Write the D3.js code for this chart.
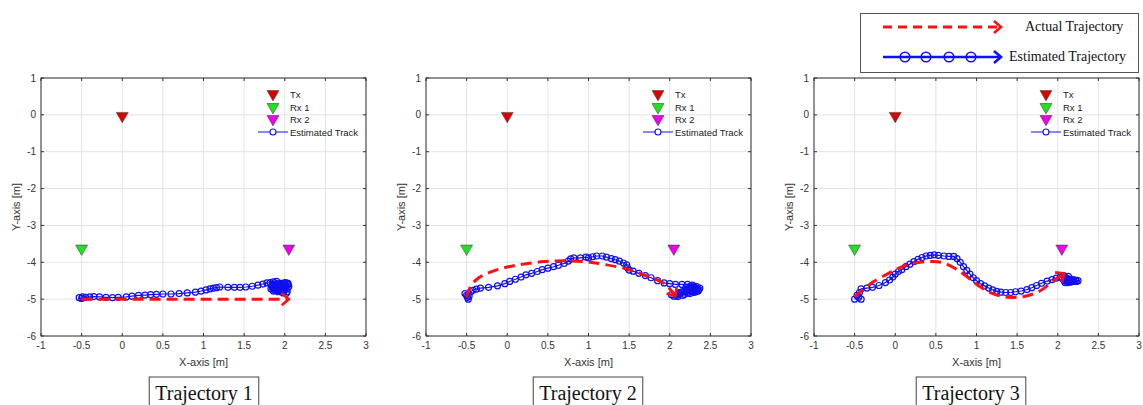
<!DOCTYPE html>
<html>
<head>
<meta charset="utf-8">
<script src="https://cdn.jsdelivr.net/npm/d3@7"></script>
<style>
body { margin: 0; background: #fff; }
</style>
</head>
<body>
<svg id="chart" width="1143" height="405"></svg>
<script>
//tick values for every panel
var xTicks = [-1, -0.5, 0, 0.5, 1, 1.5, 2, 2.5, 3];
var yTicks = [1, 0, -1, -2, -3, -4, -5, -6];

//antenna positions
var stationNames = ["Tx", "Rx 1", "Rx 2"];
var stationX = [0, -0.5, 2.05];
var stationY = [0, -3.6, -3.6];

var captions = ["Trajectory 1", "Trajectory 2", "Trajectory 3"];

//actual (red dashed) trajectories
var actual1 = [[-0.5, -5], [2.05, -5]];
var actual2 = [[-0.5, -4.95], [-0.45, -4.65], [-0.35, -4.42], [-0.2, -4.26], [0, -4.13], [0.2, -4.05],
  [0.45, -3.98], [0.7, -3.96], [0.95, -3.98], [1.2, -4.06], [1.5, -4.2], [1.75, -4.4], [1.95, -4.6], [2.07, -4.92]];
var actual3 = [[-0.5, -4.93], [-0.38, -4.72], [-0.27, -4.53], [-0.1, -4.32], [0.05, -4.15], [0.25, -4.02],
  [0.45, -3.98], [0.6, -4.02], [0.75, -4.18], [0.9, -4.42], [1.05, -4.67], [1.2, -4.85], [1.4, -4.95],
  [1.6, -4.92], [1.78, -4.78], [1.95, -4.5], [2.08, -4.3]];

//estimated (blue circles) tracks
var estimated1 = [[-0.53, -4.96], [-0.5, -4.98], [-0.49, -4.94], [-0.45, -4.95], [-0.4, -4.94], [-0.35, -4.93],
  [-0.28, -4.94], [-0.2, -4.95], [-0.12, -4.96], [-0.05, -4.95], [0.05, -4.94], [0.12, -4.92], [0.2, -4.9],
  [0.28, -4.89], [0.35, -4.88], [0.42, -4.87], [0.5, -4.86], [0.6, -4.86], [0.7, -4.85], [0.8, -4.83],
  [0.9, -4.81], [0.97, -4.78], [1.03, -4.75], [1.08, -4.72], [1.12, -4.7], [1.16, -4.69], [1.2, -4.67],
  [1.3, -4.68], [1.38, -4.68], [1.45, -4.68], [1.52, -4.67], [1.6, -4.65], [1.67, -4.62], [1.73, -4.59],
  [1.78, -4.56], [1.82, -4.55], [1.86, -4.53], [1.9, -4.52], [1.85, -4.6], [1.88, -4.66], [1.83, -4.72],
  [1.86, -4.78], [1.9, -4.72], [1.95, -4.65], [1.98, -4.58], [2.02, -4.56], [2.04, -4.6], [1.96, -4.7],
  [1.92, -4.8], [1.98, -4.83], [2.03, -4.8], [2.0, -4.7], [1.94, -4.6], [1.9, -4.68], [1.85, -4.7],
  [1.88, -4.76], [1.95, -4.78], [2.02, -4.84], [1.97, -4.62], [1.92, -4.64], [1.87, -4.62], [1.84, -4.66],
  [1.89, -4.72], [1.93, -4.74], [1.98, -4.76], [2.03, -4.72], [2.05, -4.66], [2.0, -4.62], [1.95, -4.57],
  [1.9, -4.58], [1.86, -4.66], [1.9, -4.77], [1.96, -4.74], [2.01, -4.68], [2.04, -4.57], [2.0, -4.55]];
var estimated2 = [[-0.48, -5.0], [-0.5, -4.9], [-0.52, -4.85], [-0.47, -4.92], [-0.49, -4.95], [-0.45, -4.8],
  [-0.42, -4.76], [-0.38, -4.73], [-0.33, -4.7], [-0.23, -4.68], [-0.12, -4.64], [-0.03, -4.58], [0.03, -4.52],
  [0.1, -4.46], [0.17, -4.4], [0.23, -4.34], [0.3, -4.3], [0.37, -4.25], [0.43, -4.2], [0.5, -4.16], [0.57, -4.12],
  [0.63, -4.08], [0.7, -4.03], [0.75, -3.97], [0.78, -3.91], [0.82, -3.88], [0.9, -3.88], [0.97, -3.86],
  [1.0, -3.88], [1.05, -3.85], [1.1, -3.83], [1.17, -3.83], [1.22, -3.86], [1.28, -3.9], [1.33, -3.93],
  [1.38, -3.97], [1.43, -4.02], [1.47, -4.07], [1.48, -4.15], [1.5, -4.21], [1.55, -4.24], [1.62, -4.3],
  [1.7, -4.36], [1.77, -4.42], [1.85, -4.5], [1.93, -4.56], [2.0, -4.58], [2.07, -4.6], [2.15, -4.6],
  [2.22, -4.6], [2.28, -4.62], [2.33, -4.66], [2.37, -4.7], [2.35, -4.78], [2.3, -4.82], [2.25, -4.85],
  [2.18, -4.87], [2.1, -4.88], [2.05, -4.92], [2.12, -4.85], [2.2, -4.8], [2.28, -4.76], [2.32, -4.72],
  [2.25, -4.7], [2.2, -4.75], [2.15, -4.8], [2.08, -4.9], [2.02, -4.88], [2.1, -4.93], [2.16, -4.9],
  [2.22, -4.84], [2.27, -4.8], [2.31, -4.77], [2.34, -4.72], [2.3, -4.66], [2.25, -4.65], [2.2, -4.68],
  [2.26, -4.74], [2.32, -4.8], [2.36, -4.74], [2.28, -4.68], [2.22, -4.72], [2.18, -4.78], [2.12, -4.82]];
var estimated3 = [[-0.5, -5.0], [-0.45, -4.95], [-0.42, -5.0], [-0.47, -4.9], [-0.44, -4.82], [-0.42, -4.72],
  [-0.35, -4.7], [-0.28, -4.68], [-0.2, -4.63], [-0.12, -4.55], [-0.07, -4.48], [-0.03, -4.4], [0.0, -4.32],
  [0.04, -4.25], [0.08, -4.2], [0.13, -4.12], [0.18, -4.05], [0.23, -3.98], [0.28, -3.92], [0.33, -3.87],
  [0.38, -3.83], [0.43, -3.81], [0.48, -3.8], [0.53, -3.81], [0.6, -3.83], [0.66, -3.84], [0.72, -3.84],
  [0.76, -3.9], [0.8, -4.0], [0.84, -4.12], [0.88, -4.22], [0.92, -4.32], [0.96, -4.42], [1.0, -4.5],
  [1.05, -4.58], [1.1, -4.64], [1.15, -4.7], [1.2, -4.75], [1.25, -4.79], [1.3, -4.81], [1.36, -4.82],
  [1.42, -4.82], [1.48, -4.8], [1.55, -4.78], [1.62, -4.74], [1.68, -4.69], [1.74, -4.63], [1.8, -4.57],
  [1.87, -4.51], [1.93, -4.47], [1.98, -4.43], [2.03, -4.4], [2.08, -4.37], [2.1, -4.45], [2.12, -4.55],
  [2.15, -4.5], [2.18, -4.46], [2.22, -4.48], [2.25, -4.5], [2.2, -4.52], [2.14, -4.53], [2.08, -4.5],
  [2.1, -4.42], [2.13, -4.38], [2.11, -4.5], [2.16, -4.54], [2.19, -4.5], [2.23, -4.52], [2.17, -4.48],
  [2.12, -4.44], [2.09, -4.55], [2.06, -4.45], [2.14, -4.47]];

var actuals = [actual1, actual2, actual3];
var estimates = [estimated1, estimated2, estimated3];

//layout
var panelLeft = [41, 426, 814];
var panelWidth = 325;
var panelTop = 78;
var panelHeight = 258;
var captionCenter = [204, 588, 971];
var stationColors = ["#dd0000", "#22e022", "#ee00ee"];
var blue = "#1010f0";
var red = "#ff1010";

var svg = d3.select("#chart");
var defs = svg.append("defs");

//open chevron arrow head for the dashed line
defs.append("marker")
  .attr("id", "redArrow")
  .attr("markerUnits", "userSpaceOnUse")
  .attr("viewBox", "-10 -8 12 16")
  .attr("markerWidth", 12).attr("markerHeight", 16)
  .attr("refX", 0).attr("refY", 0)
  .attr("orient", "auto")
  .append("path")
  .attr("d", "M-7,-6 L0,0 L-7,6")
  .attr("fill", "none").attr("stroke", red).attr("stroke-width", 2.6);

var triangle = d3.symbol().type(d3.symbolTriangle).size(62);

function drawPanel(i) {
  var x = d3.scaleLinear().domain([-1, 3]).range([panelLeft[i], panelLeft[i] + panelWidth]);
  var y = d3.scaleLinear().domain([-6, 1]).range([panelTop + panelHeight, panelTop]);
  var g = svg.append("g");

  //white plot background
  g.append("rect")
    .attr("x", x(-1)).attr("y", y(1))
    .attr("width", panelWidth).attr("height", panelHeight)
    .attr("fill", "#fff");

  //grid
  g.selectAll(".gx").data(xTicks).enter().append("line")
    .attr("x1", d => x(d)).attr("x2", d => x(d))
    .attr("y1", y(-6)).attr("y2", y(1))
    .attr("stroke", "#e3e3e3").attr("stroke-width", 1);
  g.selectAll(".gy").data(yTicks).enter().append("line")
    .attr("x1", x(-1)).attr("x2", x(3))
    .attr("y1", d => y(d)).attr("y2", d => y(d))
    .attr("stroke", "#e3e3e3").attr("stroke-width", 1);

  //inward ticks, all four sides
  var tl = 3;
  xTicks.forEach(function (d) {
    g.append("line").attr("x1", x(d)).attr("x2", x(d)).attr("y1", y(-6)).attr("y2", y(-6) - tl)
      .attr("stroke", "#333");
    g.append("line").attr("x1", x(d)).attr("x2", x(d)).attr("y1", y(1)).attr("y2", y(1) + tl)
      .attr("stroke", "#333");
  });
  yTicks.forEach(function (d) {
    g.append("line").attr("x1", x(-1)).attr("x2", x(-1) + tl).attr("y1", y(d)).attr("y2", y(d))
      .attr("stroke", "#333");
    g.append("line").attr("x1", x(3)).attr("x2", x(3) - tl).attr("y1", y(d)).attr("y2", y(d))
      .attr("stroke", "#333");
  });

  //box
  g.append("rect")
    .attr("x", x(-1)).attr("y", y(1))
    .attr("width", panelWidth).attr("height", panelHeight)
    .attr("fill", "none").attr("stroke", "#333").attr("stroke-width", 1);

  //tick labels
  g.selectAll(".xl").data(xTicks).enter().append("text")
    .attr("x", d => x(d)).attr("y", y(-6) + 13)
    .attr("text-anchor", "middle")
    .attr("font-family", "Liberation Sans, Arial, sans-serif").attr("font-size", 10)
    .attr("fill", "#333")
    .text(d => String(d));
  g.selectAll(".yl").data(yTicks).enter().append("text")
    .attr("x", x(-1) - 5).attr("y", d => y(d) + 3.5)
    .attr("text-anchor", "end")
    .attr("font-family", "Liberation Sans, Arial, sans-serif").attr("font-size", 10)
    .attr("fill", "#333")
    .text(d => String(d));

  //axis titles
  g.append("text")
    .attr("x", x(1)).attr("y", y(-6) + 30)
    .attr("text-anchor", "middle")
    .attr("font-family", "Liberation Sans, Arial, sans-serif").attr("font-size", 11)
    .attr("fill", "#333")
    .text("X-axis [m]");
  g.append("text")
    .attr("transform", "translate(" + (x(-1) - 21) + "," + y(-2.5) + ") rotate(-90)")
    .attr("text-anchor", "middle")
    .attr("font-family", "Liberation Sans, Arial, sans-serif").attr("font-size", 11)
    .attr("fill", "#333")
    .text("Y-axis [m]");

  //estimated track
  var est = estimates[i];
  g.append("path").datum(est)
    .attr("d", d3.line().x(d => x(d[0])).y(d => y(d[1])))
    .attr("fill", "none").attr("stroke", blue).attr("stroke-width", 1.2);
  g.selectAll(".pt").data(est).enter().append("circle")
    .attr("cx", d => x(d[0])).attr("cy", d => y(d[1]))
    .attr("r", 3)
    .attr("fill", "none").attr("stroke", blue).attr("stroke-width", 1.2);

  //actual trajectory
  var curve = actuals[i].length > 2 ? d3.curveCatmullRom : d3.curveLinear;
  g.append("path").datum(actuals[i])
    .attr("d", d3.line().curve(curve).x(d => x(d[0])).y(d => y(d[1])))
    .attr("fill", "none").attr("stroke", red).attr("stroke-width", 3)
    .attr("stroke-dasharray", "11,6")
    .attr("marker-end", "url(#redArrow)");

  //stations
  stationNames.forEach(function (name, k) {
    g.append("path")
      .attr("d", triangle)
      .attr("transform", "translate(" + x(stationX[k]) + "," + (y(stationY[k]) + 1) + ") rotate(180)")
      .attr("fill", stationColors[k]).attr("stroke", "#444").attr("stroke-width", 0.6);
  });

  //legend
  var lx = x(-1) + 232;
  var rows = [16, 29, 41, 54];
  stationNames.forEach(function (name, k) {
    g.append("path")
      .attr("d", triangle)
      .attr("transform", "translate(" + lx + "," + (panelTop + rows[k]) + ") rotate(180)")
      .attr("fill", stationColors[k]).attr("stroke", "#444").attr("stroke-width", 0.6);
    g.append("text")
      .attr("x", lx + 17).attr("y", panelTop + rows[k] + 3.5)
      .attr("font-family", "Liberation Sans, Arial, sans-serif").attr("font-size", 9.5)
      .attr("fill", "#222")
      .text(name);
  });
  g.append("line")
    .attr("x1", lx - 15).attr("x2", lx + 15)
    .attr("y1", panelTop + rows[3]).attr("y2", panelTop + rows[3])
    .attr("stroke", blue).attr("stroke-width", 1);
  g.append("circle")
    .attr("cx", lx).attr("cy", panelTop + rows[3]).attr("r", 3)
    .attr("fill", "#fff").attr("stroke", blue).attr("stroke-width", 1.1);
  g.append("text")
    .attr("x", lx + 17).attr("y", panelTop + rows[3] + 3.5)
    .attr("font-family", "Liberation Sans, Arial, sans-serif").attr("font-size", 9.5)
    .attr("fill", "#222")
    .text("Estimated Track");

  //caption box
  var cg = svg.append("g");
  var ct = cg.append("text")
    .attr("x", captionCenter[i]).attr("y", 400)
    .attr("text-anchor", "middle")
    .attr("font-family", "Liberation Serif, Times New Roman, serif").attr("font-size", 20)
    .attr("fill", "#111")
    .text(captions[i]);
  var bb = ct.node().getBBox();
  cg.insert("rect", "text")
    .attr("x", bb.x - 6).attr("y", 377)
    .attr("width", bb.width + 12).attr("height", 40)
    .attr("fill", "#fff").attr("stroke", "#444").attr("stroke-width", 1);
}

[0, 1, 2].forEach(drawPanel);

//top legend
var lg = svg.append("g");
lg.append("rect")
  .attr("x", 860.5).attr("y", 13.5).attr("width", 278).attr("height", 59)
  .attr("fill", "#fff").attr("stroke", "#555").attr("stroke-width", 1);
lg.append("line")
  .attr("x1", 883).attr("x2", 1001).attr("y1", 27).attr("y2", 27)
  .attr("stroke", red).attr("stroke-width", 3).attr("stroke-dasharray", "9,6")
  .attr("marker-end", "url(#redArrow)");
lg.append("text")
  .attr("x", 1025).attr("y", 31)
  .attr("font-family", "Liberation Serif, Times New Roman, serif").attr("font-size", 14)
  .attr("fill", "#111")
  .text("Actual Trajectory");

defs.append("marker")
  .attr("id", "blueArrow")
  .attr("markerUnits", "userSpaceOnUse")
  .attr("viewBox", "-10 -8 12 16")
  .attr("markerWidth", 12).attr("markerHeight", 16)
  .attr("refX", 0).attr("refY", 0)
  .attr("orient", "auto")
  .append("path")
  .attr("d", "M-7,-6 L0,0 L-7,6")
  .attr("fill", "none").attr("stroke", blue).attr("stroke-width", 2.6);

lg.append("line")
  .attr("x1", 883).attr("x2", 1001).attr("y1", 57).attr("y2", 57)
  .attr("stroke", blue).attr("stroke-width", 2.5)
  .attr("marker-end", "url(#blueArrow)");
[905, 926, 949, 971].forEach(function (cx) {
  lg.append("circle")
    .attr("cx", cx).attr("cy", 57).attr("r", 4.8)
    .attr("fill", "none").attr("stroke", blue).attr("stroke-width", 1.6);
});
lg.append("text")
  .attr("x", 1009).attr("y", 61)
  .attr("font-family", "Liberation Serif, Times New Roman, serif").attr("font-size", 14)
  .attr("fill", "#111")
  .text("Estimated Trajectory");
</script>
</body>
</html>
